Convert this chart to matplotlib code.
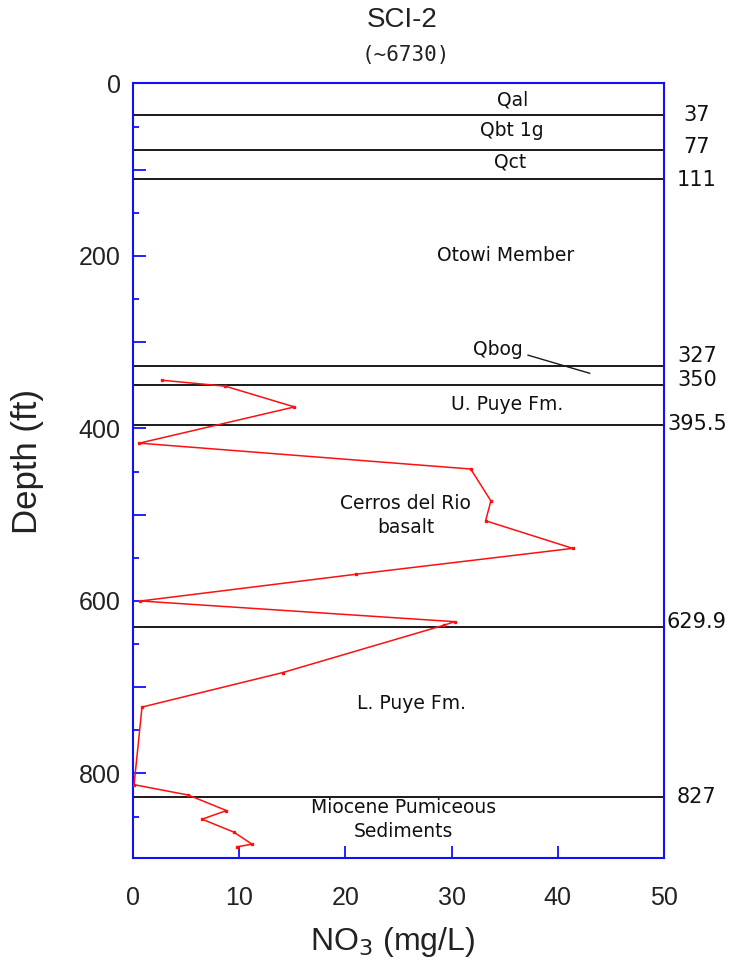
import matplotlib
matplotlib.use("Agg")
import matplotlib.pyplot as plt
from matplotlib.ticker import MultipleLocator, FixedLocator, FuncFormatter

# Nitrate profile, borehole SCI-2
depth_ft = [344, 351, 375, 417, 447, 484, 507, 539, 569, 600, 624, 628,
            683, 723, 813, 825, 843, 853, 868, 882, 885]
no3_mgl = [2.7, 8.7, 15.2, 0.6, 31.8, 33.7, 33.2, 41.4, 21.0, 0.7, 30.3, 29.3,
           14.1, 0.85, 0.1, 5.2, 8.8, 6.5, 9.5, 11.2, 9.8]

# Stratigraphic contacts (ft) and their labels on the right margin
contact_depths = [37, 77, 111, 327, 350, 395.5, 629.9, 827]
contact_labels = ["37", "77", "111", "327", "350", "395.5", "629.9", "827"]
contact_label_depth = [37, 74, 112, 316, 344, 395, 624, 827]

# Unit names and their placement (NO3 value, depth)
unit_names = ["Qal", "Qbt 1g", "Qct", "Otowi Member", "Qbog", "U. Puye Fm.",
              "Cerros del Rio\nbasalt", "L. Puye Fm.",
              "Miocene Pumiceous\nSediments"]
unit_x = [35.7, 35.7, 35.5, 35.1, 34.4, 35.2, 25.7, 26.2, 25.5]
unit_depth = [19, 55, 91, 199, 308, 372, 501, 719, 853]

# Leader from the Qbog label to its thin interval
qbog_leader_x = [37.2, 43.0]
qbog_leader_depth = [315, 336]

x_ticks = [0, 10, 20, 30, 40, 50]
y_major = [0, 100, 200, 300, 400, 500, 600, 700, 800]
y_labelled = [0, 200, 400, 600, 800]

W, H = 732, 972
fig = plt.figure(figsize=(W / 100, H / 100), dpi=100)
left, right, top, bottom = 133, 664, 83.5, 858
ax = fig.add_axes([left / W, 1 - bottom / H, (right - left) / W, (bottom - top) / H])

blue = "#1010ff"
for s in ax.spines.values():
    s.set_color(blue)
    s.set_linewidth(1.5)

ax.set_xlim(0, 50)
ax.set_ylim(898, 0)

# contact lines
for d in contact_depths:
    ax.axhline(d, color="#1a1a1a", lw=1.4, zorder=2)

# nitrate profile
ax.plot(no3_mgl, depth_ft, color="#ff1010", lw=1.1, marker="s", ms=2.0,
        mec="#ff1010", mfc="#ff1010", zorder=3)

ax.plot(qbog_leader_x, qbog_leader_depth, color="#1a1a1a", lw=1.0, zorder=3)

for name, x, d in zip(unit_names, unit_x, unit_depth):
    ax.text(x, d, name, ha="center", va="center", fontsize=13.5,
            family="DejaVu Sans", color="#111111", linespacing=1.35, zorder=4)

trans = ax.get_yaxis_transform()
for lab, d in zip(contact_labels, contact_label_depth):
    ax.text(1.062, d, lab, transform=trans, ha="center", va="center",
            fontsize=15, family="DejaVu Sans", color="#111111", clip_on=False)

# ticks
ax.xaxis.set_major_locator(FixedLocator(x_ticks))
ax.yaxis.set_major_locator(FixedLocator(y_major))
ax.yaxis.set_minor_locator(MultipleLocator(50))
ax.yaxis.set_major_formatter(
    FuncFormatter(lambda v, p: f"{int(v)}" if int(v) in y_labelled else ""))
ax.tick_params(axis="both", which="both", direction="in", colors=blue,
               top=False, right=False)
ax.tick_params(axis="y", which="major", length=9, width=1.3, pad=9)
ax.tick_params(axis="y", which="minor", length=4.5, width=1.3)
ax.tick_params(axis="x", which="major", length=9, width=1.3, pad=20)
for lab in ax.get_xticklabels() + ax.get_yticklabels():
    lab.set_color("#222222")
    lab.set_fontsize(18)
    lab.set_family("Liberation Sans")

fig.text(28 / W, 1 - 462 / H, "Depth (ft)", rotation=90, ha="center",
         va="center", fontsize=25, family="Liberation Sans", color="#222222")
fig.text(392 / W, 1 - 942 / H, "NO$_3$ (mg/L)", ha="center", va="center",
         fontsize=23, family="Liberation Sans", color="#222222")
fig.text(402 / W, 1 - 20 / H, "SCI-2", ha="center", va="center",
         fontsize=20, family="Liberation Sans", color="#222222")
fig.text(406 / W, 1 - 55 / H, "(~6730)", ha="center", va="center",
         fontsize=15, family="DejaVu Sans Mono", color="#222222")

fig.savefig("out.png", dpi=100)
